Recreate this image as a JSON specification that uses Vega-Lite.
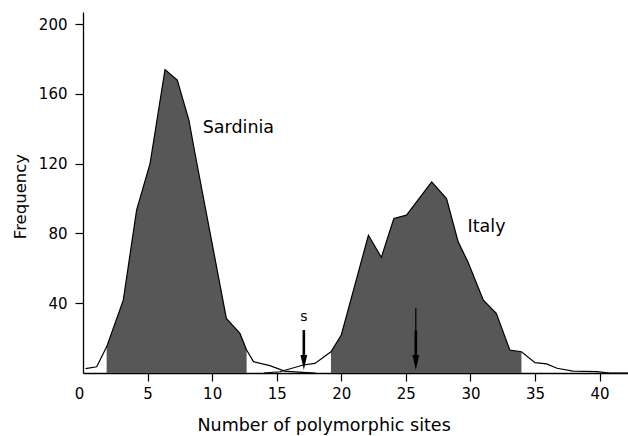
{
  "$schema": "https://vega.github.io/schema/vega-lite/v6.json",
  "width": 545,
  "height": 361,
  "autosize": "none",
  "padding": {"left": 83, "top": 12, "right": 0, "bottom": 63},
  "background": "white",
  "config": {"view": {"stroke": null}, "font": "DejaVu Sans"},
  "datasets": {
    "curves": [
      {"series": "Sardinia", "x": 0.2, "y": 2.5, "shaded": false},
      {"series": "Sardinia", "x": 1.06, "y": 3.6, "shaded": false},
      {"series": "Sardinia", "x": 1.83, "y": 15, "shaded": true},
      {"series": "Sardinia", "x": 3.12, "y": 41.8, "shaded": true},
      {"series": "Sardinia", "x": 4.15, "y": 93.4, "shaded": true},
      {"series": "Sardinia", "x": 5.19, "y": 120, "shaded": true},
      {"series": "Sardinia", "x": 6.35, "y": 174, "shaded": true},
      {"series": "Sardinia", "x": 7.3, "y": 168, "shaded": true},
      {"series": "Sardinia", "x": 8.2, "y": 145, "shaded": true},
      {"series": "Sardinia", "x": 8.67, "y": 126, "shaded": true},
      {"series": "Sardinia", "x": 11.1, "y": 31.3, "shaded": true},
      {"series": "Sardinia", "x": 12.15, "y": 22.7, "shaded": true},
      {"series": "Sardinia", "x": 12.67, "y": 13.2, "shaded": true},
      {"series": "Sardinia", "x": 13.2, "y": 6.5, "shaded": false},
      {"series": "Sardinia", "x": 14.47, "y": 4.2, "shaded": false},
      {"series": "Sardinia", "x": 15.6, "y": 1.1, "shaded": false},
      {"series": "Sardinia", "x": 17.0, "y": 0.4, "shaded": false},
      {"series": "Sardinia", "x": 18.0, "y": 0, "shaded": false},
      {"series": "Italy", "x": 14.0, "y": 0, "shaded": false},
      {"series": "Italy", "x": 15.25, "y": 0.7, "shaded": false},
      {"series": "Italy", "x": 17.05, "y": 4.6, "shaded": false},
      {"series": "Italy", "x": 17.96, "y": 5.5, "shaded": false},
      {"series": "Italy", "x": 19.2, "y": 12.2, "shaded": true},
      {"series": "Italy", "x": 20.0, "y": 21.8, "shaded": true},
      {"series": "Italy", "x": 22.1, "y": 79, "shaded": true},
      {"series": "Italy", "x": 23.1, "y": 66.3, "shaded": true},
      {"series": "Italy", "x": 24.07, "y": 88.6, "shaded": true},
      {"series": "Italy", "x": 25.05, "y": 90.5, "shaded": true},
      {"series": "Italy", "x": 27.0, "y": 109.6, "shaded": true},
      {"series": "Italy", "x": 28.15, "y": 100, "shaded": true},
      {"series": "Italy", "x": 29.05, "y": 75.2, "shaded": true},
      {"series": "Italy", "x": 29.8, "y": 63.8, "shaded": true},
      {"series": "Italy", "x": 31.0, "y": 41.8, "shaded": true},
      {"series": "Italy", "x": 32.0, "y": 34.2, "shaded": true},
      {"series": "Italy", "x": 33.05, "y": 13.2, "shaded": true},
      {"series": "Italy", "x": 33.95, "y": 12.2, "shaded": true},
      {"series": "Italy", "x": 35.0, "y": 5.9, "shaded": false},
      {"series": "Italy", "x": 35.9, "y": 5.2, "shaded": false},
      {"series": "Italy", "x": 36.7, "y": 2.7, "shaded": false},
      {"series": "Italy", "x": 37.95, "y": 1.1, "shaded": false},
      {"series": "Italy", "x": 39.8, "y": 0.8, "shaded": false},
      {"series": "Italy", "x": 40.8, "y": 0, "shaded": false},
      {"series": "Italy", "x": 42.2, "y": 0, "shaded": false}
    ],
    "arrows": [
      {"x": 17.1, "y": 24.6, "y2": 8, "part": "shaft"},
      {"x": 25.77, "y": 24.6, "y2": 8, "part": "shaft"},
      {"x": 25.77, "y": 37.2, "y2": 24.6, "part": "lead"},
      {"x": 17.1, "y": 6, "y2": 6, "part": "head"},
      {"x": 25.77, "y": 6, "y2": 6, "part": "head"}
    ],
    "labels": [
      {"x": 9.27, "y": 137.4, "text": "Sardinia", "kind": "name"},
      {"x": 29.78, "y": 80.6, "text": "Italy", "kind": "name"},
      {"x": 17.1, "y": 29.8, "text": "s", "kind": "mark"}
    ]
  },
  "encoding": {
    "x": {
      "field": "x", "type": "quantitative",
      "scale": {"domain": [0, 42.2], "nice": false, "zero": false},
      "axis": {
        "title": "Number of polymorphic sites",
        "values": [0, 5, 10, 15, 20, 25, 30, 35, 40],
        "grid": false,
        "labelFlush": false,
        "domainColor": "black", "domainWidth": 1.3,
        "tickColor": "black", "tickWidth": 1.2, "tickSize": 8,
        "tickOpacity": {"condition": {"test": "datum.value == 0", "value": 0}, "value": 1},
        "labelOffset": {"condition": {"test": "datum.value == 0", "value": -4}, "value": 0},
        "labelFont": "DejaVu Sans", "labelFontSize": 15, "labelColor": "black", "labelPadding": 5,
        "titleFont": "DejaVu Sans", "titleFontSize": 17.5, "titleFontWeight": "normal", "titleColor": "black",
        "titleAlign": "left", "titleAnchor": null, "titleX": 114, "titleY": 57, "titleBaseline": "alphabetic"
      }
    },
    "y": {
      "field": "y", "type": "quantitative",
      "scale": {"domain": [0, 207], "nice": false},
      "stack": null,
      "axis": {
        "title": "Frequency",
        "values": [40, 80, 120, 160, 200],
        "grid": false,
        "domainColor": "black", "domainWidth": 1.3,
        "tickColor": "black", "tickWidth": 1.2, "tickSize": 8,
        "labelFont": "DejaVu Sans", "labelFontSize": 15, "labelColor": "black", "labelPadding": 8,
        "titleFont": "DejaVu Sans", "titleFontSize": 16.5, "titleFontWeight": "normal", "titleColor": "black",
        "titleAngle": 270, "titleAlign": "center", "titleAnchor": null, "titleX": -58, "titleY": 184, "titleBaseline": "alphabetic"
      }
    }
  },
  "layer": [
    {
      "data": {"name": "curves"},
      "transform": [{"filter": "datum.shaded"}],
      "mark": {"type": "area", "color": "#575757", "opacity": 1},
      "encoding": {"detail": {"field": "series"}}
    },
    {
      "data": {"name": "curves"},
      "mark": {"type": "line", "color": "black", "strokeWidth": 1.2},
      "encoding": {"detail": {"field": "series"}}
    },
    {
      "data": {"name": "arrows"},
      "transform": [{"filter": "datum.part == 'shaft'"}],
      "mark": {"type": "rule", "color": "black", "strokeWidth": 2.6},
      "encoding": {"y2": {"field": "y2"}}
    },
    {
      "data": {"name": "arrows"},
      "transform": [{"filter": "datum.part == 'lead'"}],
      "mark": {"type": "rule", "color": "black", "strokeWidth": 1.2},
      "encoding": {"y2": {"field": "y2"}}
    },
    {
      "data": {"name": "arrows"},
      "transform": [{"filter": "datum.part == 'head'"}],
      "mark": {"type": "point", "shape": "M-0.45,-1L0.45,-1L0,1Z", "filled": true, "color": "black", "opacity": 1, "size": 225},
      "encoding": {}
    },
    {
      "data": {"name": "labels"},
      "transform": [{"filter": "datum.kind == 'name'"}],
      "mark": {"type": "text", "font": "DejaVu Sans", "fontSize": 17.5, "align": "left", "baseline": "alphabetic", "color": "black"},
      "encoding": {"text": {"field": "text"}}
    },
    {
      "data": {"name": "labels"},
      "transform": [{"filter": "datum.kind == 'mark'"}],
      "mark": {"type": "text", "font": "DejaVu Sans", "fontSize": 14, "align": "center", "baseline": "alphabetic", "color": "black"},
      "encoding": {"text": {"field": "text"}}
    }
  ]
}
